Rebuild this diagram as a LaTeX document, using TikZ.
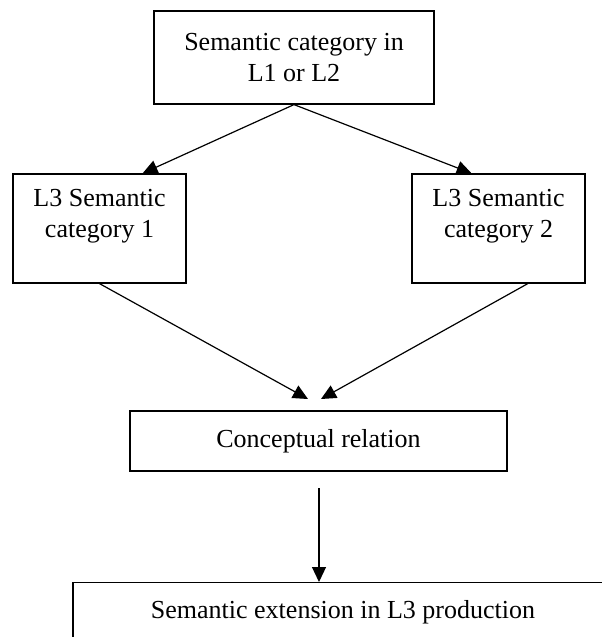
\documentclass[tikz,border=0pt]{standalone}
\usepackage{fontspec}
\setmainfont{Liberation Serif}
\usetikzlibrary{
    arrows.meta,
    calc,
    positioning
}

\begin{document}
\begin{tikzpicture}[x=1pt, y=-1pt, line width=1.2pt,
        box/.style={draw, rectangle, align=center, inner sep=0pt,
            font=\fontsize{26}{31}\selectfont},
        >={Triangle[length=15pt, width=14pt]}]
    \useasboundingbox (0, 0) rectangle (602, 637);
    \node[box, minimum width=280pt, minimum height=93pt] (src) at (294, 57.5)
        {Semantic category in\\ L1 or L2};
    \node[box, minimum width=173pt, minimum height=109pt] (cat1) at (99.5, 228.5)
        {L3 Semantic\\ category 1\\ \mbox{}};
    \node[box, minimum width=173pt, minimum height=109pt] (cat2) at (498.5, 228.5)
        {L3 Semantic\\ category 2\\ \mbox{}};
    \node[box, minimum width=377pt, minimum height=60pt] (rel) at (318.5, 441)
        {Conceptual relation};
    \node[box, anchor=north, minimum width=540pt, inner ysep=18pt] (ext) at (343, 582)
        {Semantic extension in L3 production};
    \coordinate (relL) at (308, 399);
    \coordinate (relR) at (321, 399);
    \coordinate (relout) at (319, 488);
    \draw
    (src.south) edge[->] (cat1.52)
    (src.south) edge[->] (cat2.116)
    (cat1.south) edge[->] (relL)
    (cat2.-62) edge[->] (relR)
    (relout) edge[->] (relout |- ext.north);
\end{tikzpicture}
\end{document}
